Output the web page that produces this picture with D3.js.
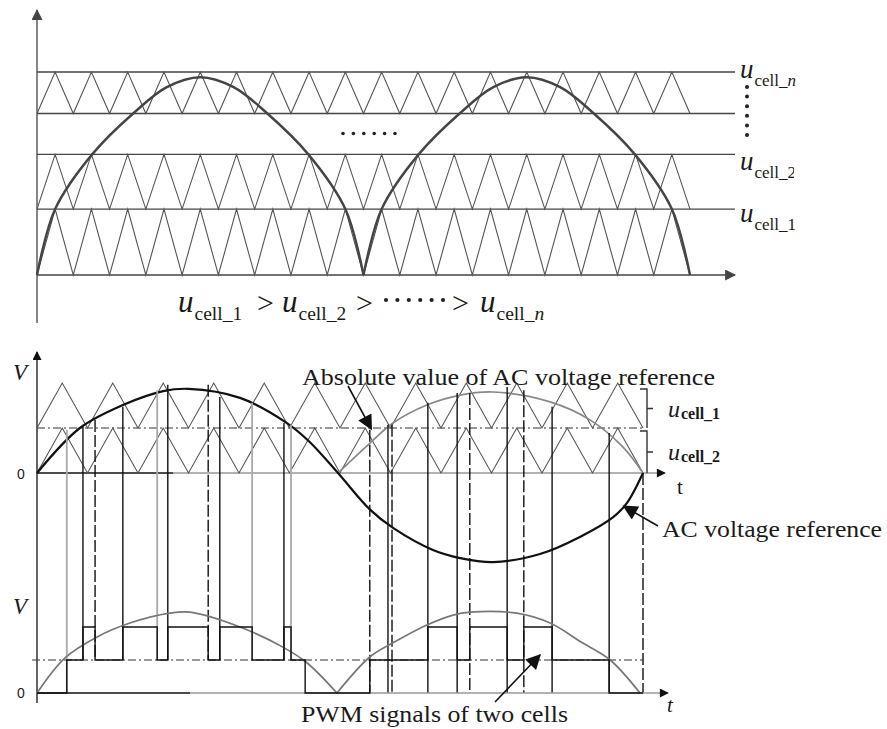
<!DOCTYPE html>
<html>
<head>
<meta charset="utf-8">
<script src="https://cdn.jsdelivr.net/npm/d3@7"></script>
<style>
  body { margin: 0; background: #fff; }
  svg { display: block; }
  text { font-family: "Liberation Serif", "Times New Roman", serif; fill: #1a1a1a; }
</style>
</head>
<body>
<svg id="chart" width="887" height="729"></svg>
<script>
// top panel: stacked carriers of the n cells + rectified reference
var topLevels = [0, 1, 1.83, 2.45, 3.08];
var topBands = [[0, 1], [1, 1.83], [2.45, 3.08]];
var topCarrierPeriods = 18;
var topArchT = [0, 0.5, 1.52, 2.65, 3.58, 4.5, 5.42, 6.35, 7.48, 8.5, 9];
var topArchV = [0, 1.0, 1.83, 2.45, 2.85, 3.0, 2.85, 2.45, 1.83, 1.0, 0];
var topArchStarts = [0, 9];
var topLabelSubs = ["cell_1", "cell_2", "cell_n"];
var topLabelLevels = [1, 1.83, 3.08];

// middle panel: two cell carriers + AC reference
var midBands = [[0, 1], [1, 2]];
var midBandSubs = ["cell_2", "cell_1"];
var midCarrierPeriods = 12;
var acT = [0, 0.85, 1.7, 2.5, 3.0, 4.02, 4.95, 5.4, 5.96, 6.6, 7.05, 7.84, 8.38, 9.03, 9.96, 10.75, 11.41, 11.68, 12];
var acV = [0, 1.0, 1.51, 1.82, 1.87, 1.67, 1.11, 0.69, 0, -0.82, -1.22, -1.71, -1.89, -1.98, -1.80, -1.42, -0.98, -0.67, 0];
var absT = [5.96, 6.6, 7.05, 7.72, 8.38, 9.03, 10.16, 10.95, 11.6, 12];
var absV = [0, 0.67, 1.11, 1.51, 1.73, 1.8, 1.58, 1.18, 0.58, 0];

// switching instants (carrier/reference crossings) projected down
var switchT = [0.59, 0.91, 1.15, 1.70, 2.38, 2.59, 3.39, 3.62, 4.26, 4.89, 5.03,
               6.59, 6.95, 7.03, 7.74, 8.32, 8.57, 9.31, 9.64, 10.20, 11.33, 12.0];
var switchTop = [0.96, 1.07, 1.18, 1.47, 1.84, 1.96, 1.96, 1.69, 1.56, 1.11, 1.07,
                 0.96, 1.07, 1.07, 1.56, 1.78, 1.78, 1.91, 1.84, 1.47, 0.89, 0];
var switchBottom = [0, 1, 1, 1, 1, 1, 1, 1, 1, 1, 1,
                    0, 0, 0, 0, 0, 0, 0, 0, 0, 0, 0];
var switchStyle = ["gray", "solid", "dashed", "solid", "gray", "solid", "dashed", "solid", "gray", "solid", "gray",
                   "dashed", "solid", "dashed", "solid", "solid", "dashed", "solid", "dashed", "solid", "solid", "dashed"];

// bottom panel: PWM output of the two cells
var pwmT = [0, 0.59, 0.91, 1.15, 1.70, 2.38, 2.59, 3.39, 3.62, 4.26, 4.89, 5.03, 5.31,
            6.59, 7.74, 8.32, 8.57, 9.31, 9.64, 10.20, 11.33, 12.0];
var pwmLevel = [0, 1, 2, 1, 2, 1, 2, 1, 2, 1, 2, 1, 0,
                1, 2, 1, 2, 1, 2, 1, 0, 0];
var botArch1T = [0, 0.55, 1.19, 1.84, 2.63, 3.03, 4.02, 4.87, 5.35, 5.94];
var botArch1V = [0, 1.06, 1.7, 2.12, 2.42, 2.45, 2.0, 1.39, 0.91, 0];
var botArch2T = [5.94, 6.59, 7.05, 7.72, 8.24, 8.57, 9.5, 10.16, 10.8, 11.35, 11.94];
var botArch2V = [0, 1.09, 1.52, 2.06, 2.36, 2.45, 2.42, 2.12, 1.52, 1.0, 0];

var svg = d3.select('#chart');

var xTop = d3.scaleLinear().domain([0, topCarrierPeriods]).range([37, 690]);
var yTop = d3.scaleLinear().domain([0, 3.08]).range([275, 72]);
var xMid = d3.scaleLinear().domain([0, midCarrierPeriods]).range([37, 643]);
var yMid = d3.scaleLinear().domain([0, 2]).range([473, 383]);
var yBot = d3.scaleLinear().domain([0, 2]).range([693, 627]);

var smooth = d3.curveCatmullRom.alpha(0.5);

var defs = svg.append('defs');
function marker(id, len, wid, color) {
	defs.append('marker')
		.attr('id', id)
		.attr('viewBox', '0 -5 10 10')
		.attr('refX', 9).attr('refY', 0)
		.attr('markerUnits', 'userSpaceOnUse')
		.attr('markerWidth', len).attr('markerHeight', wid)
		.attr('orient', 'auto')
		.append('path').attr('d', 'M0,-5L10,0L0,5Z').attr('fill', color);
}
marker('axArrow', 13, 11, '#444');
marker('axArrowSm', 12, 9, '#111');
marker('annArrow', 18, 15, '#111');

defs.append('filter').attr('id', 'soft')
	.append('feGaussianBlur').attr('stdDeviation', 0.7);

// ---------- top panel ----------
var gTop = svg.append('g');

gTop.append('line')
	.attr('x1', 37).attr('x2', 37).attr('y1', 323).attr('y2', 10)
	.attr('stroke', '#444').attr('stroke-width', 1.3)
	.attr('marker-end', 'url(#axArrow)');

gTop.selectAll('line.lvl')
	.data(topLevels)
	.enter()
	.append('line')
	.attr('class', 'lvl')
	.attr('x1', xTop(0)).attr('x2', 735)
	.attr('y1', function (d) { return yTop(d); })
	.attr('y2', function (d) { return yTop(d); })
	.attr('stroke', '#444').attr('stroke-width', 1.3)
	.attr('marker-end', function (d) { return d === 0 ? 'url(#axArrow)' : null; });

var triLineTop = d3.line().x(function (p) { return xTop(p[0]); }).y(function (p) { return yTop(p[1]); });
gTop.selectAll('path.carrier')
	.data(topBands)
	.enter()
	.append('path')
	.attr('class', 'carrier')
	.attr('d', function (b) {
		return triLineTop(d3.range(0, 2 * topCarrierPeriods + 1).map(function (k) { return [k / 2, k % 2 ? b[1] : b[0]]; }));
	})
	.attr('fill', 'none').attr('stroke', '#555').attr('stroke-width', 1.1);

var archTop = d3.line().curve(smooth)
	.x(function (d) { return xTop(d[0]); }).y(function (d) { return yTop(d[1]); });
gTop.selectAll('path.arch')
	.data(topArchStarts)
	.enter()
	.append('path')
	.attr('class', 'arch')
	.attr('d', function (s) { return archTop(topArchT.map(function (t, i) { return [s + t, topArchV[i]]; })); })
	.attr('fill', 'none').attr('stroke', '#444').attr('stroke-width', 2.4)
	.attr('filter', 'url(#soft)');

// "......" in the gap
gTop.selectAll('circle.gapdot')
	.data(d3.range(6))
	.enter()
	.append('circle')
	.attr('cx', function (i) { return 343 + i * 10.4; })
	.attr('cy', (yTop(1.83) + yTop(2.45)) / 2 - 0.5)
	.attr('r', 1.8).attr('fill', '#222');

// vertical dots under u_cell_n
gTop.selectAll('circle.vdot')
	.data(d3.range(6))
	.enter()
	.append('circle')
	.attr('cx', 747)
	.attr('cy', function (i) { return 87 + i * 9.6; })
	.attr('r', 2).attr('fill', '#222');

function cellLabel(g, x, y, sub, uSize, subSize, dy, bold) {
	var t = g.append('text').attr('x', x).attr('y', y);
	t.append('tspan').style('font-style', 'italic').style('font-size', uSize + 'px').text('u');
	var parts = sub.split('_');
	t.append('tspan').attr('dy', dy).attr('dx', 1).style('font-size', subSize + 'px')
		.style('font-weight', bold ? 'bold' : 'normal').text(parts[0] + '_');
	t.append('tspan').style('font-size', subSize + 'px')
		.style('font-weight', bold ? 'bold' : 'normal')
		.style('font-style', isNaN(+parts[1]) ? 'italic' : 'normal').text(parts[1]);
	return t;
}

defs.append('clipPath').attr('id', 'edgeClip')
	.append('rect').attr('x', 0).attr('y', 0).attr('width', 794).attr('height', 729);

var labelDy = [13, 16, 6];
topLabelSubs.forEach(function (s, i) {
	var t = cellLabel(gTop, 740, yTop(topLabelLevels[i]) + labelDy[i], s, 27, 17, 8, false);
	if (i === 1) t.attr('clip-path', 'url(#edgeClip)');
});

// inequality line
var gIneq = gTop.append('g');
[[178, 'cell_1'], [282, 'cell_2'], [480, 'cell_n']].forEach(function (p) {
	cellLabel(gIneq, p[0], 312, p[1], 31, 19.5, 8, false);
});
[257, 356, 452].forEach(function (x) {
	gIneq.append('text').attr('x', x).attr('y', 313).style('font-size', '30px').text('>');
});
gIneq.selectAll('circle')
	.data(d3.range(6))
	.enter()
	.append('circle')
	.attr('cx', function (i) { return 386 + i * 11.4; })
	.attr('cy', 300)
	.attr('r', 2.1).attr('fill', '#222');

// ---------- middle panel ----------
var gMid = svg.append('g');

gMid.append('line')
	.attr('x1', 37).attr('x2', 37).attr('y1', 703).attr('y2', 352)
	.attr('stroke', '#111').attr('stroke-width', 1.3)
	.attr('marker-end', 'url(#axArrowSm)');

// switching lines (drawn first, under the waveforms)
var gSw = svg.append('g');
gSw.selectAll('line')
	.data(switchT)
	.enter()
	.append('line')
	.attr('x1', function (d) { return xMid(d); })
	.attr('x2', function (d) { return xMid(d); })
	.attr('y1', function (d, i) { return yMid(switchTop[i]); })
	.attr('y2', function (d, i) { return yBot(switchBottom[i]); })
	.attr('stroke', function (d, i) { return switchStyle[i] === 'gray' ? '#aaa' : '#111'; })
	.attr('stroke-width', function (d, i) { return switchStyle[i] === 'gray' ? 1.8 : 1.4; })
	.attr('stroke-dasharray', function (d, i) { return switchStyle[i] === 'dashed' ? '12,3' : null; });

// zero line: black start, grey remainder
gMid.append('line')
	.attr('x1', xMid(0)).attr('x2', xMid(2.7)).attr('y1', yMid(0)).attr('y2', yMid(0))
	.attr('stroke', '#111').attr('stroke-width', 1.4);
gMid.append('line')
	.attr('x1', xMid(2.7)).attr('x2', 665).attr('y1', yMid(0)).attr('y2', yMid(0))
	.attr('stroke', '#999').attr('stroke-width', 1.6)
	.attr('marker-end', 'url(#axArrowSm)');

gMid.append('line')
	.attr('x1', xMid(0)).attr('x2', xMid(12)).attr('y1', yMid(1)).attr('y2', yMid(1))
	.attr('stroke', '#333').attr('stroke-width', 1.1).attr('stroke-dasharray', '8,3,2,3');

var triLineMid = d3.line().x(function (p) { return xMid(p[0]); }).y(function (p) { return yMid(p[1]); });
gMid.selectAll('path.carrier')
	.data(midBands)
	.enter()
	.append('path')
	.attr('class', 'carrier')
	.attr('d', function (b) {
		return triLineMid(d3.range(0, 2 * midCarrierPeriods + 1).map(function (k) { return [k / 2, k % 2 ? b[1] : b[0]]; }));
	})
	.attr('fill', 'none').attr('stroke', '#555').attr('stroke-width', 1.1);

var curveMid = d3.line().curve(smooth)
	.x(function (d) { return xMid(d[0]); }).y(function (d) { return yMid(d[1]); });
gMid.append('path')
	.attr('d', curveMid(absT.map(function (t, i) { return [t, absV[i]]; })))
	.attr('fill', 'none').attr('stroke', '#888').attr('stroke-width', 1.7);
gMid.append('path')
	.attr('d', curveMid(acT.map(function (t, i) { return [t, acV[i]]; })))
	.attr('fill', 'none').attr('stroke', '#111').attr('stroke-width', 2.2);

// brackets for the two cells
var bx = xMid(12) + 4;
midBands.forEach(function (b, i) {
	var top = yMid(b[1]) + (i === 1 ? 6 : 3), bot = yMid(b[0]), mid = (top + bot) / 2;
	gMid.append('path')
		.attr('d', 'M' + (bx - 7) + ',' + top + 'H' + bx + 'V' + bot + 'M' + bx + ',' + mid + 'H' + (bx + 6))
		.attr('fill', 'none').attr('stroke', '#333').attr('stroke-width', 1.4);
	cellLabel(gMid, 668, mid + 8, midBandSubs[i], 24, 16, 2, true);
});

gMid.append('text').attr('x', 13).attr('y', 380).style('font-style', 'italic').style('font-size', '23px').text('V');
gMid.append('text').attr('x', 17).attr('y', yMid(0) + 6).style('font-family', '"Liberation Sans", Arial, sans-serif')
	.style('font-size', '14px').text('0');
gMid.append('text').attr('x', 677).attr('y', 494).style('font-size', '21px').text('t');

gMid.append('text').attr('x', 302).attr('y', 385).style('font-size', '24px')
	.attr('textLength', 413).attr('lengthAdjust', 'spacingAndGlyphs')
	.text('Absolute value of AC voltage reference');
gMid.append('line')
	.attr('x1', 348).attr('y1', 386).attr('x2', xMid(6.62)).attr('y2', yMid(0.98))
	.attr('stroke', '#111').attr('stroke-width', 1.6).attr('marker-end', 'url(#annArrow)');

gMid.append('text').attr('x', 662).attr('y', 537).style('font-size', '24px')
	.attr('textLength', 220).attr('lengthAdjust', 'spacingAndGlyphs')
	.text('AC voltage reference');
gMid.append('line')
	.attr('x1', 658).attr('y1', 526).attr('x2', xMid(11.62)).attr('y2', yMid(-0.74))
	.attr('stroke', '#111').attr('stroke-width', 1.6).attr('marker-end', 'url(#annArrow)');

// ---------- bottom panel ----------
var gBot = svg.append('g');

gBot.append('line')
	.attr('x1', 32).attr('x2', xMid(12)).attr('y1', yBot(1)).attr('y2', yBot(1))
	.attr('stroke', '#333').attr('stroke-width', 1.1).attr('stroke-dasharray', '8,3,2,3');

gBot.append('line')
	.attr('x1', xMid(0)).attr('x2', xMid(3.03)).attr('y1', yBot(0)).attr('y2', yBot(0))
	.attr('stroke', '#111').attr('stroke-width', 1.4);
gBot.append('line')
	.attr('x1', xMid(3.03)).attr('x2', 668).attr('y1', yBot(0)).attr('y2', yBot(0))
	.attr('stroke', '#999').attr('stroke-width', 1.6)
	.attr('marker-end', 'url(#axArrowSm)');

var curveBot = d3.line().curve(smooth)
	.x(function (d) { return xMid(d[0]); }).y(function (d) { return yBot(d[1]); });
[[botArch1T, botArch1V], [botArch2T, botArch2V]].forEach(function (a) {
	gBot.append('path')
		.attr('d', curveBot(a[0].map(function (t, i) { return [t, a[1][i]]; })))
		.attr('fill', 'none').attr('stroke', '#777').attr('stroke-width', 1.7);
});

var pwmLine = d3.line().curve(d3.curveStepAfter)
	.x(function (d) { return xMid(d[0]); }).y(function (d) { return yBot(d[1]); });
gBot.append('path')
	.attr('d', pwmLine(pwmT.map(function (t, i) { return [t, pwmLevel[i]]; })))
	.attr('fill', 'none').attr('stroke', '#111').attr('stroke-width', 1.4);

gBot.append('text').attr('x', 13).attr('y', 614).style('font-style', 'italic').style('font-size', '23px').text('V');
gBot.append('text').attr('x', 17).attr('y', yBot(0) + 5).style('font-family', '"Liberation Sans", Arial, sans-serif')
	.style('font-size', '14px').text('0');
gBot.append('text').attr('x', 667).attr('y', 712).style('font-style', 'italic').style('font-size', '21px').text('t');

gBot.append('text').attr('x', 301).attr('y', 722).style('font-size', '23px')
	.attr('textLength', 267).attr('lengthAdjust', 'spacingAndGlyphs')
	.text('PWM signals of two cells');
gBot.append('line')
	.attr('x1', 495).attr('y1', 702).attr('x2', xMid(9.96)).attr('y2', yBot(1.15))
	.attr('stroke', '#111').attr('stroke-width', 1.6).attr('marker-end', 'url(#annArrow)');
</script>
</body>
</html>
